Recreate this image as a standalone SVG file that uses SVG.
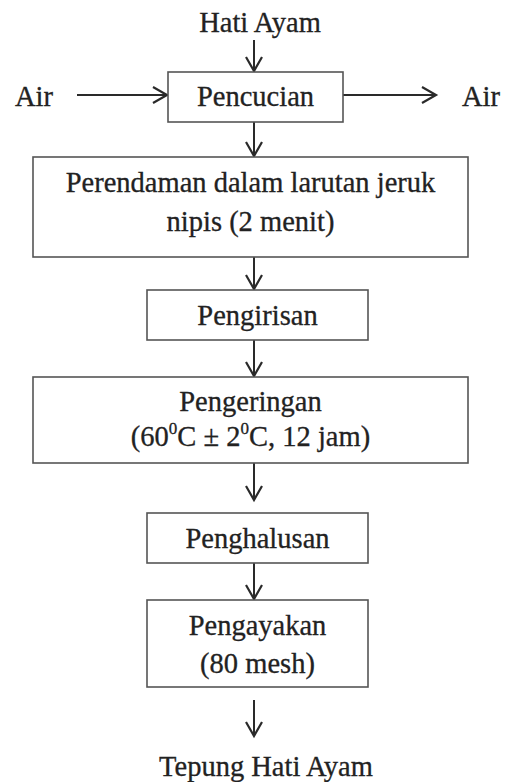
<svg xmlns="http://www.w3.org/2000/svg" width="507" height="782" viewBox="0 0 507 782">
<style>
.box{fill:#fff;stroke:#555;stroke-width:1.6}
.t{font-family:"Liberation Serif","Times New Roman",serif;font-size:28.5px;fill:#222;stroke:#222;stroke-width:0.3;text-anchor:middle}
.ts{font-family:"Liberation Serif","Times New Roman",serif;font-size:28.5px;fill:#222;stroke:#222;stroke-width:0.3}
.c{stroke:#2a2a2a;stroke-width:2;fill:none}
</style>
<defs>
<marker id="ah" viewBox="0 0 20 20" refX="16" refY="10" markerWidth="20" markerHeight="20" markerUnits="userSpaceOnUse" orient="auto">
<path d="M2,2 L16,10 L2,18" fill="none" stroke="#2a2a2a" stroke-width="2.2"/>
</marker>
</defs>
<rect width="507" height="782" fill="#fff"/>
<g id="connectors">
<line class="c" x1="254" y1="40" x2="254" y2="71" marker-end="url(#ah)"/>
<line class="c" x1="77" y1="95" x2="167" y2="95" marker-end="url(#ah)"/>
<line class="c" x1="343" y1="95" x2="436" y2="95" marker-end="url(#ah)"/>
<line class="c" x1="254" y1="122" x2="254" y2="156" marker-end="url(#ah)"/>
<line class="c" x1="254" y1="257" x2="254" y2="289" marker-end="url(#ah)"/>
<line class="c" x1="254" y1="340" x2="254" y2="376" marker-end="url(#ah)"/>
<line class="c" x1="254" y1="463" x2="254" y2="500" marker-end="url(#ah)"/>
<line class="c" x1="254" y1="563" x2="254" y2="599" marker-end="url(#ah)"/>
<line class="c" x1="254" y1="700" x2="254" y2="736" marker-end="url(#ah)"/>
</g>
<g id="hati-ayam"><text class="t" x="260" y="32">Hati Ayam</text></g>
<g id="air-in"><text class="ts" x="15" y="106">Air</text></g>
<g id="air-out"><text class="ts" x="462" y="106">Air</text></g>
<g id="pencucian"><rect class="box" x="168" y="72" width="175" height="50"/><text class="t" x="255.5" y="106">Pencucian</text></g>
<g id="perendaman"><rect class="box" x="33" y="157" width="435" height="100"/><text class="t" x="250.5" y="192">Perendaman dalam larutan jeruk</text><text class="t" x="250.5" y="231">nipis (2 menit)</text></g>
<g id="pengirisan"><rect class="box" x="147" y="290" width="221" height="50"/><text class="t" x="257.5" y="325">Pengirisan</text></g>
<g id="pengeringan"><rect class="box" x="33" y="377" width="435" height="86"/><text class="t" x="250.5" y="411">Pengeringan</text><text class="t" x="250.5" y="446">(60<tspan font-size="17" dy="-12">0</tspan><tspan dy="12">C ± 2</tspan><tspan font-size="17" dy="-12">0</tspan><tspan dy="12">C, 12 jam)</tspan></text></g>
<g id="penghalusan"><rect class="box" x="147" y="513" width="221" height="50"/><text class="t" x="257.5" y="548">Penghalusan</text></g>
<g id="pengayakan"><rect class="box" x="147" y="600" width="221" height="87"/><text class="t" x="257.5" y="635">Pengayakan</text><text class="t" x="257.5" y="673">(80 mesh)</text></g>
<g id="tepung"><text class="t" x="266" y="776">Tepung Hati Ayam</text></g>
</svg>
